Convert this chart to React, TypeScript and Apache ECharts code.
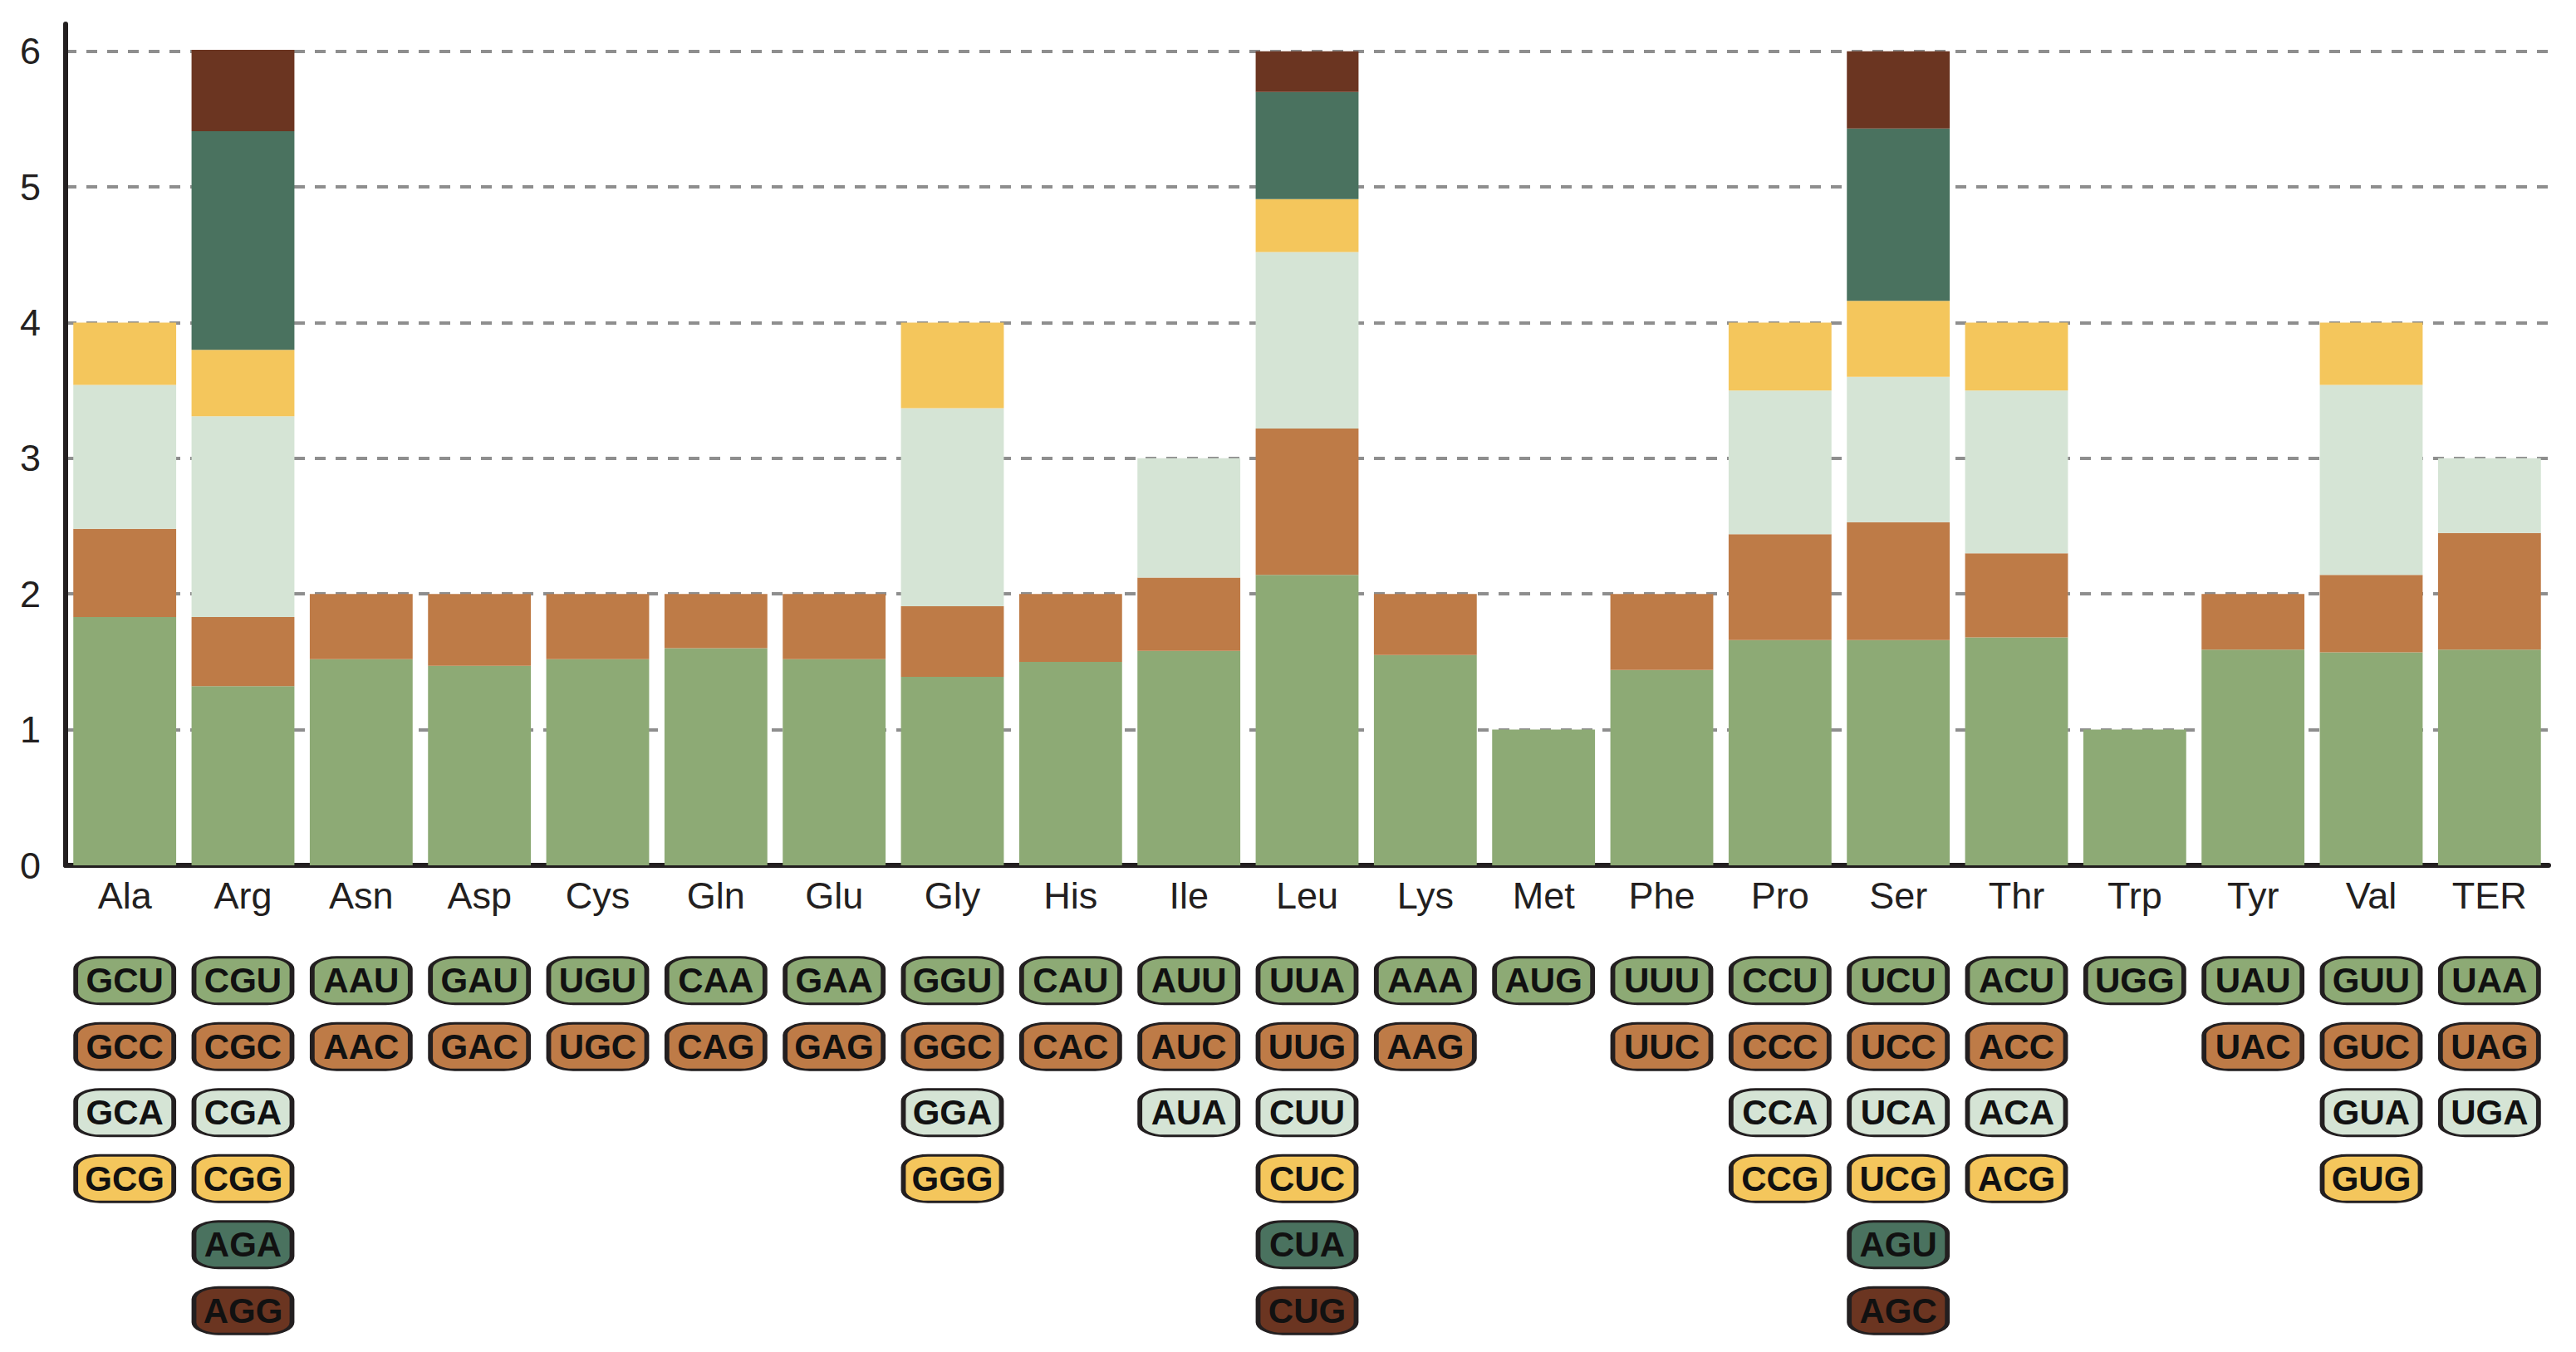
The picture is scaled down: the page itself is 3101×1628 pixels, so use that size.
import { useEffect, useRef } from "react";
import * as echarts from "echarts";

// amino acids (x categories)
const AMINO = [
  "Ala", "Arg", "Asn", "Asp", "Cys", "Gln", "Glu", "Gly", "His", "Ile", "Leu",
  "Lys", "Met", "Phe", "Pro", "Ser", "Thr", "Trp", "Tyr", "Val", "TER",
];

// stacked segment heights, bottom to top (one array per codon slot)
const SLOT1 = [1.83, 1.32, 1.52, 1.47, 1.52, 1.6, 1.52, 1.39, 1.5, 1.58, 2.14, 1.55, 1.0, 1.44, 1.66, 1.66, 1.68, 1.0, 1.59, 1.57, 1.59];
const SLOT2 = [0.65, 0.51, 0.48, 0.53, 0.48, 0.4, 0.48, 0.52, 0.5, 0.54, 1.08, 0.45, null, 0.56, 0.78, 0.87, 0.62, null, 0.41, 0.57, 0.86];
const SLOT3 = [1.06, 1.48, null, null, null, null, null, 1.46, null, 0.88, 1.3, null, null, null, 1.06, 1.07, 1.2, null, null, 1.4, 0.55];
const SLOT4 = [0.46, 0.49, null, null, null, null, null, 0.63, null, null, 0.39, null, null, null, 0.5, 0.56, 0.5, null, null, 0.46, null];
const SLOT5 = [null, 1.61, null, null, null, null, null, null, null, null, 0.79, null, null, null, null, 1.27, null, null, null, null, null];
const SLOT6 = [null, 0.6, null, null, null, null, null, null, null, null, 0.3, null, null, null, null, 0.57, null, null, null, null, null];

// codon labels under each amino acid, one row per slot
const CODON1 = ["GCU", "CGU", "AAU", "GAU", "UGU", "CAA", "GAA", "GGU", "CAU", "AUU", "UUA", "AAA", "AUG", "UUU", "CCU", "UCU", "ACU", "UGG", "UAU", "GUU", "UAA"];
const CODON2 = ["GCC", "CGC", "AAC", "GAC", "UGC", "CAG", "GAG", "GGC", "CAC", "AUC", "UUG", "AAG", "", "UUC", "CCC", "UCC", "ACC", "", "UAC", "GUC", "UAG"];
const CODON3 = ["GCA", "CGA", "", "", "", "", "", "GGA", "", "AUA", "CUU", "", "", "", "CCA", "UCA", "ACA", "", "", "GUA", "UGA"];
const CODON4 = ["GCG", "CGG", "", "", "", "", "", "GGG", "", "", "CUC", "", "", "", "CCG", "UCG", "ACG", "", "", "GUG", ""];
const CODON5 = ["", "AGA", "", "", "", "", "", "", "", "", "CUA", "", "", "", "", "AGU", "", "", "", "", ""];
const CODON6 = ["", "AGG", "", "", "", "", "", "", "", "", "CUG", "", "", "", "", "AGC", "", "", "", "", ""];

const Y_TICKS = [0, 1, 2, 3, 4, 5, 6];

const SLOT_COLORS = ["#8daa75", "#be7b47", "#d5e4d5", "#f4c65c", "#4a725f", "#6b3521"];
const INK = "#231f20";
const DASH = "#8e8e8e";
const FONT = "'Liberation Sans', Arial, sans-serif";

const SLOTS = [SLOT1, SLOT2, SLOT3, SLOT4, SLOT5, SLOT6];
const CODONS = [CODON1, CODON2, CODON3, CODON4, CODON5, CODON6];

export default function App() {
  const ref = useRef<HTMLDivElement>(null);

  useEffect(() => {
    if (!ref.current) return;
    const chart = echarts.init(ref.current, undefined, { renderer: "svg" });

    const barSeries = SLOTS.map((vals, i) => ({
      name: `slot${i + 1}`,
      type: "bar",
      stack: "total",
      xAxisIndex: 0,
      yAxisIndex: 0,
      barCategoryGap: "13%",
      data: vals,
      itemStyle: { color: SLOT_COLORS[i] },
      z: 3,
    }));

    const codonSeries = CODONS.map((row, r) => ({
      name: `codon${r + 1}`,
      type: "scatter",
      xAxisIndex: 1,
      yAxisIndex: 1,
      symbol: "roundRect",
      symbolSize: [118, 56],
      data: row
        .map((c, i) => (c ? { name: c, value: [AMINO[i], String(r + 1)] } : null))
        .filter((d) => d !== null),
      itemStyle: { color: SLOT_COLORS[r], borderColor: INK, borderWidth: 4, opacity: 1 },
      label: {
        show: true,
        position: "inside",
        formatter: "{b}",
        fontFamily: FONT,
        fontWeight: "bold",
        fontSize: 42,
        color: "#111111",
      },
      silent: true,
    }));

    chart.setOption({
      animation: false,
      backgroundColor: "#ffffff",
      grid: [
        { left: 79, right: 33, top: 29, bottom: 586 },
        { left: 79, right: 33, top: 1141, bottom: 10 },
      ],
      xAxis: [
        {
          type: "category",
          gridIndex: 0,
          data: AMINO,
          axisLine: { lineStyle: { color: INK, width: 6 } },
          axisTick: { show: false },
          axisLabel: { color: INK, fontSize: 45, fontFamily: FONT, margin: 14 },
        },
        {
          type: "category",
          gridIndex: 1,
          data: AMINO,
          show: false,
        },
      ],
      yAxis: [
        {
          type: "value",
          gridIndex: 0,
          min: Y_TICKS[0],
          max: 6.2,
          interval: 1,
          axisLine: { show: true, lineStyle: { color: INK, width: 6 } },
          axisTick: { show: false },
          axisLabel: {
            color: INK,
            fontSize: 45,
            fontFamily: FONT,
            margin: 30,
            showMaxLabel: false,
            formatter: (v: number) => (Y_TICKS.includes(v) ? String(v) : ""),
          },
          splitLine: {
            show: true,
            showMinLine: false,
            showMaxLine: false,
            lineStyle: { color: DASH, width: 4, type: [13, 12] },
          },
        },
        {
          type: "category",
          gridIndex: 1,
          inverse: true,
          data: ["1", "2", "3", "4", "5", "6"],
          show: false,
        },
      ],
      series: [...barSeries, ...codonSeries],
    });

    return () => chart.dispose();
  }, []);

  return (
    <div
      ref={ref}
      style={{ position: "fixed", left: 0, top: 0, width: 3101, height: 1628, background: "#ffffff" }}
    />
  );
}
